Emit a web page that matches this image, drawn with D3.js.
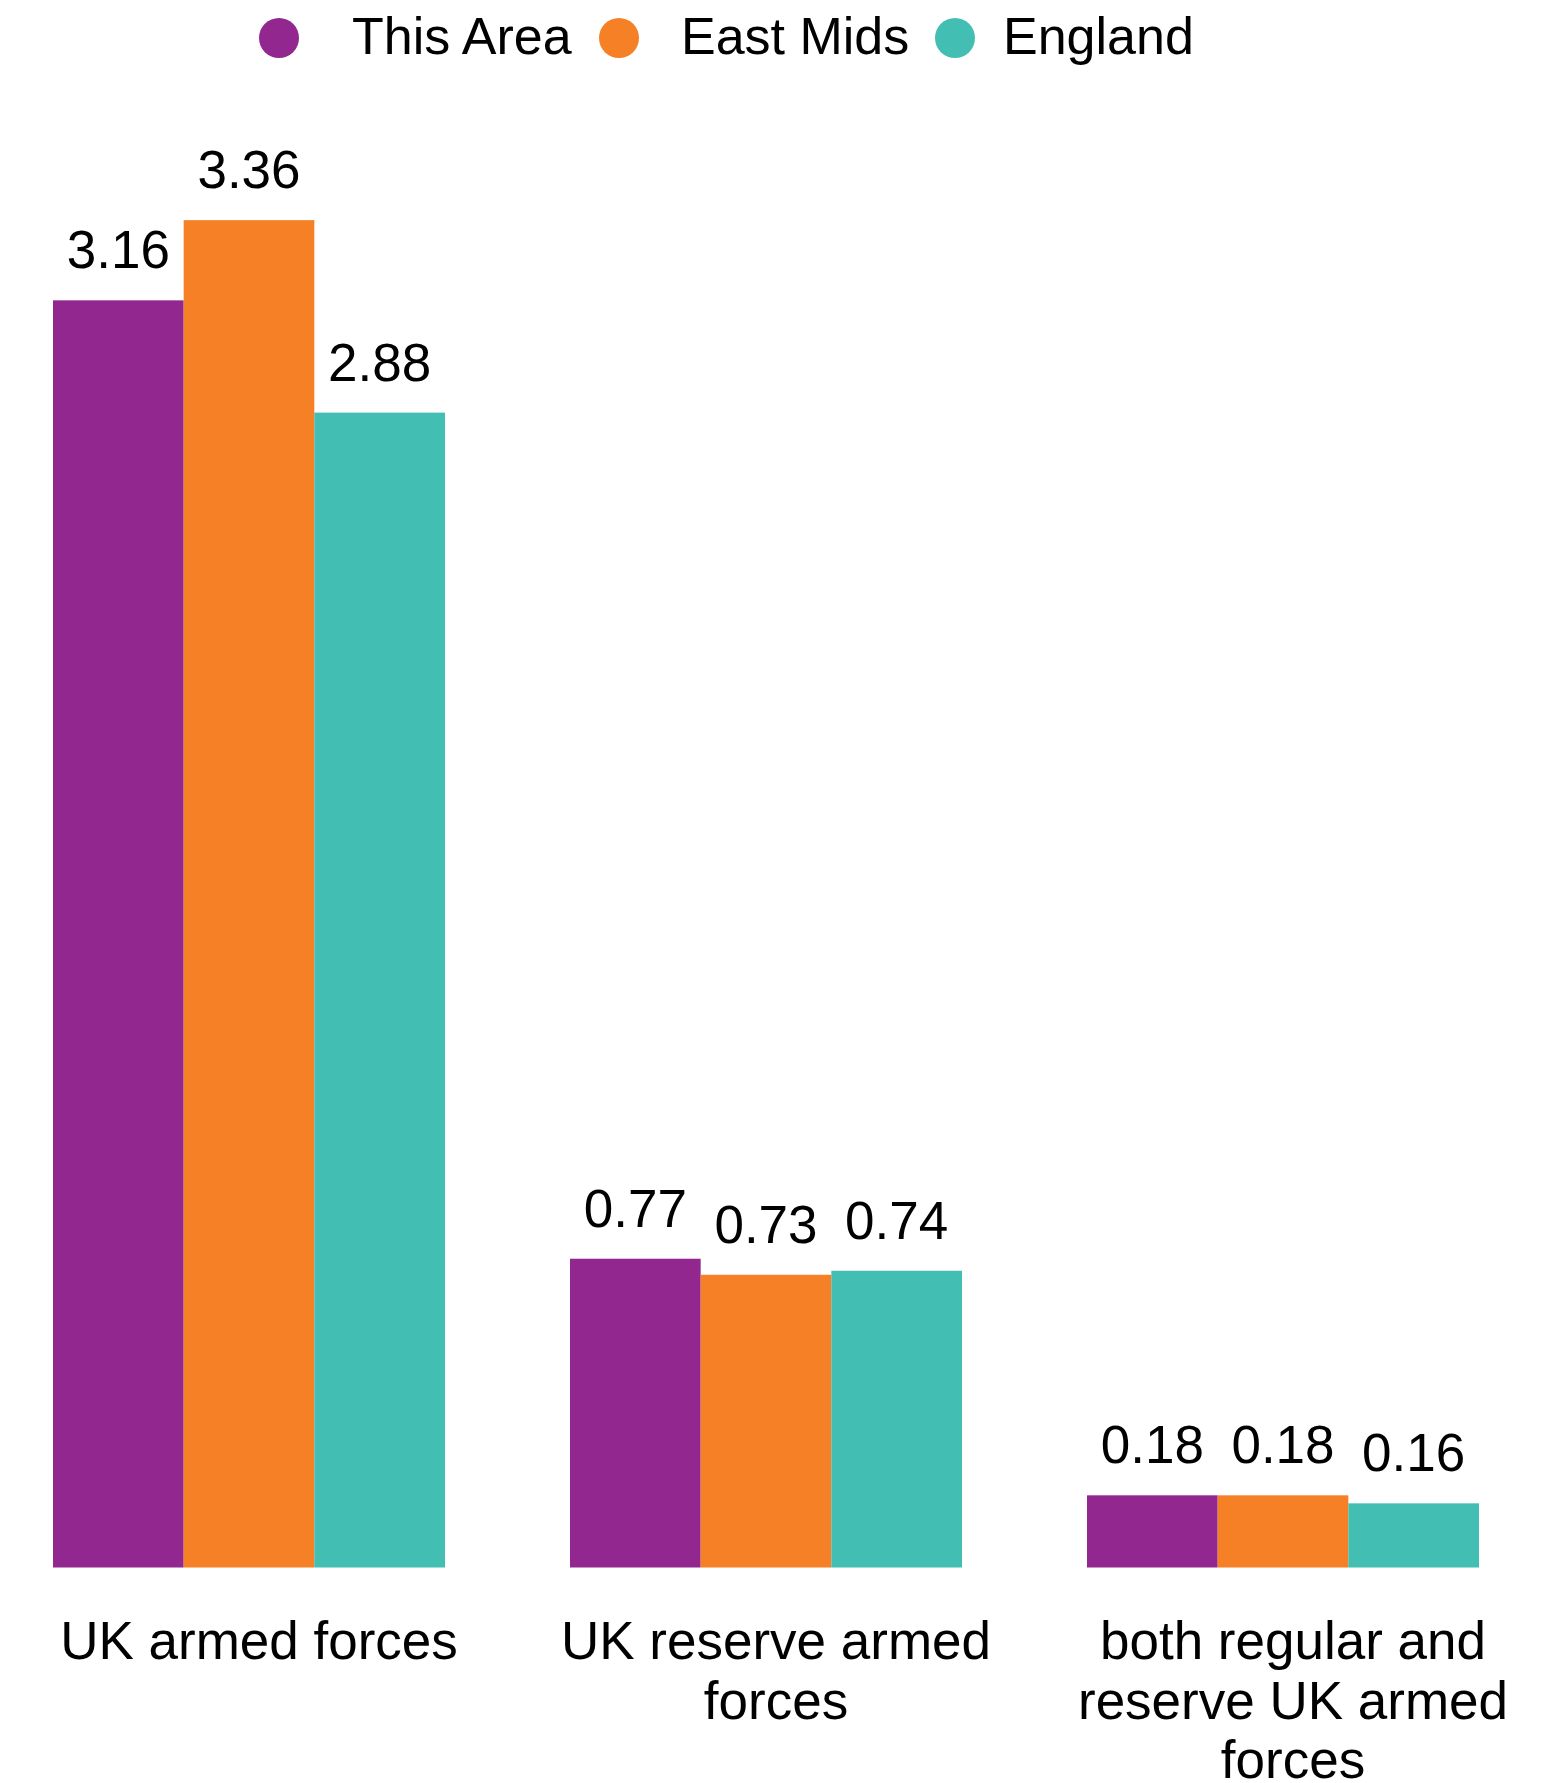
<!DOCTYPE html>
<html>
<head>
<meta charset="utf-8">
<script src="https://cdn.jsdelivr.net/npm/d3@7"></script>
<style>
  html, body { margin: 0; padding: 0; background: #fff; }
  svg { display: block; font-family: "Liberation Sans", Arial, Helvetica, sans-serif; }
</style>
</head>
<body>
<svg id="chart" width="1568" height="1783"></svg>
<script>
// ---- data ----
const categories = ["UK armed forces", "UK reserve armed forces", "both regular and reserve UK armed forces"];
const seriesNames = ["This Area", "East Mids", "England"];
const thisArea = [3.16, 0.77, 0.18];
const eastMids = [3.36, 0.73, 0.18];
const england = [2.88, 0.74, 0.16];
const seriesColors = ["#92278F", "#F58025", "#43BEB2"];

const seriesValues = [thisArea, eastMids, england];
const table = categories.map((c, i) => ({
  category: c,
  values: seriesNames.map((s, j) => ({ series: s, value: seriesValues[j][i] }))
}));

// ---- layout ----
const W = 1568, H = 1783;
const svg = d3.select("#chart");
const fontSize = 53;

const x0 = d3.scaleBand().domain(categories).range([53, 1479]).paddingInner(0.2418).paddingOuter(0);
const x1 = d3.scaleBand().domain(seriesNames).range([0, x0.bandwidth()]).padding(0);
const y = d3.scaleLinear().domain([0, 3.9]).range([1567.5, 1567.5 - 3.9 * 401]);
const color = d3.scaleOrdinal().domain(seriesNames).range(seriesColors);

// bars
const groups = svg.append("g").selectAll("g").data(table).join("g")
  .attr("transform", d => `translate(${x0(d.category)},0)`);

groups.selectAll("rect").data(d => d.values).join("rect")
  .attr("x", d => x1(d.series))
  .attr("y", d => y(d.value))
  .attr("width", x1.bandwidth())
  .attr("height", d => y(0) - y(d.value))
  .attr("fill", d => color(d.series));

groups.selectAll("text.val").data(d => d.values).join("text")
  .attr("class", "val")
  .attr("x", d => x1(d.series) + x1.bandwidth() / 2)
  .attr("y", d => y(d.value) - 32)
  .attr("text-anchor", "middle")
  .attr("font-size", fontSize)
  .attr("fill", "#000")
  .text(d => d.value.toFixed(2));

// category labels with wrapping
const xAxis = svg.append("g");
const maxW = 450, lineH = 59.5;
categories.forEach(c => {
  const t = xAxis.append("text")
    .attr("x", x0(c) + x0.bandwidth() / 2 + 10)
    .attr("y", 1659)
    .attr("text-anchor", "middle")
    .attr("font-size", fontSize)
    .attr("fill", "#000");
  const words = c.split(" ");
  let line = [], lineNo = 0;
  let tspan = t.append("tspan").attr("x", x0(c) + x0.bandwidth() / 2 + 10).attr("dy", 0);
  words.forEach(w => {
    line.push(w);
    tspan.text(line.join(" "));
    if (tspan.node().getComputedTextLength() > maxW && line.length > 1) {
      line.pop();
      tspan.text(line.join(" "));
      line = [w];
      lineNo++;
      tspan = t.append("tspan").attr("x", x0(c) + x0.bandwidth() / 2 + 10).attr("dy", lineH).text(w);
    }
  });
});

// legend
const legendCx = [279, 619, 955];
const legendTx = [352, 681, 1003];
const legend = svg.append("g");
seriesNames.forEach((s, i) => {
  legend.append("circle").attr("cx", legendCx[i]).attr("cy", 38).attr("r", 20).attr("fill", color(s));
  legend.append("text").attr("x", legendTx[i]).attr("y", 54)
    .attr("font-size", 52).attr("fill", "#000").text(s);
});
</script>
</body>
</html>
